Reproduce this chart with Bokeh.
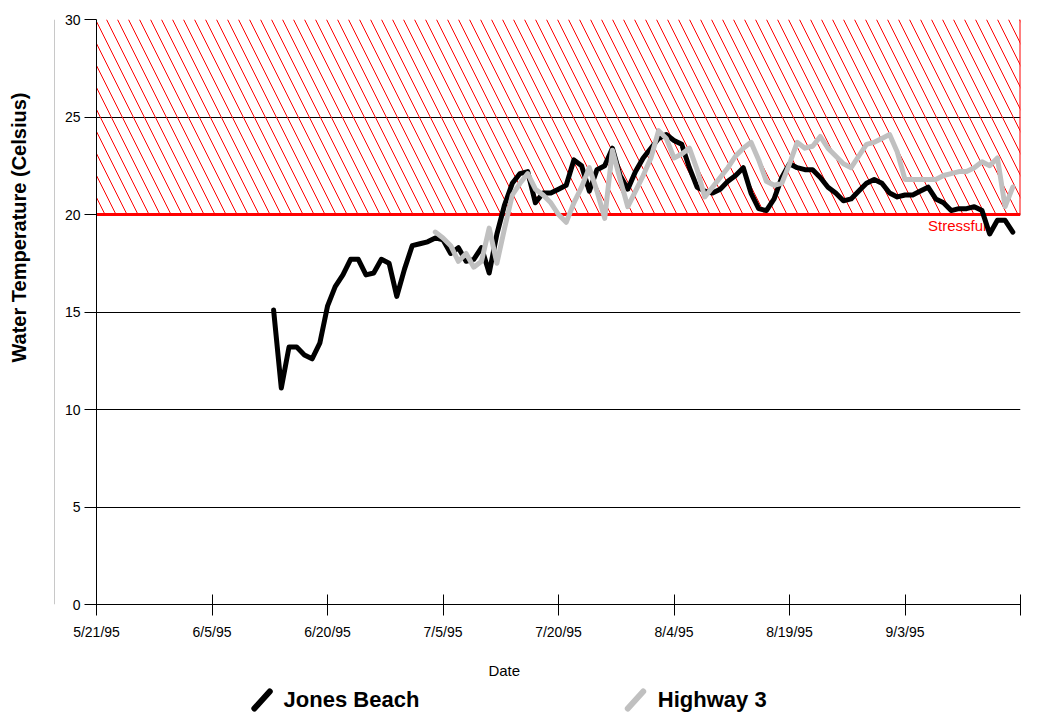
import math
from bokeh.plotting import figure
from bokeh.layouts import column, row
from bokeh.models import FixedTicker, Range1d
from bokeh.core.properties import value
from bokeh.embed import file_html
from bokeh.resources import INLINE

# x axis: days since 5/21/95
tick_days = [0, 15, 30, 45, 60, 75, 90, 105, 120]
tick_labels = ["5/21/95", "6/5/95", "6/20/95", "7/5/95", "7/20/95", "8/4/95", "8/19/95", "9/3/95", ""]
y_ticks = [0, 5, 10, 15, 20, 25, 30]

# Jones Beach (days since 5/21/95, deg C)
jb_day = list(range(23, 120))
jb_temp = [15.1, 11.1, 13.2, 13.2, 12.8, 12.6, 13.4, 15.3, 16.3, 16.9,
           17.7, 17.7, 16.9, 17.0, 17.7, 17.5, 15.8, 17.2, 18.4, 18.5,
           18.6, 18.8, 18.7, 18.0, 18.3, 17.6, 17.7, 18.3, 17.0, 19.0,
           20.5, 21.6, 22.1, 22.2, 20.6, 21.1, 21.1, 21.3, 21.5, 22.8,
           22.5, 21.2, 22.3, 22.5, 23.4, 22.0, 21.3, 22.2, 22.9, 23.4,
           23.9, 24.1, 23.8, 23.6, 22.4, 21.4, 21.2, 21.1, 21.3, 21.7,
           22.0, 22.4, 21.1, 20.3, 20.2, 20.8, 21.9, 22.6, 22.4, 22.3,
           22.3, 21.9, 21.4, 21.1, 20.7, 20.8, 21.2, 21.6, 21.8, 21.6,
           21.1, 20.9, 21.0, 21.0, 21.2, 21.4, 20.8, 20.6, 20.2, 20.3,
           20.3, 20.4, 20.2, 19.0, 19.7, 19.7, 19.1]

# Highway 3
hw_day = list(range(44, 120))
hw_temp = [19.1, 18.8, 18.4, 17.6, 18.0, 17.3, 17.6, 19.3, 17.5, 19.3,
           21.0, 21.6, 22.1, 21.3, 21.0, 20.6, 20.0, 19.6, 20.6, 21.4,
           22.4, 21.2, 19.8, 23.3, 21.8, 20.4, 21.2, 22.0, 22.9, 24.3,
           23.9, 22.9, 23.1, 23.4, 22.3, 20.9, 21.4, 21.9, 22.4, 23.0,
           23.4, 23.7, 22.8, 21.7, 21.5, 21.6, 22.6, 23.7, 23.4, 23.5,
           24.0, 23.4, 23.0, 22.6, 22.4, 23.0, 23.6, 23.7, 23.9, 24.1,
           23.2, 21.8, 21.8, 21.8, 21.8, 21.8, 22.0, 22.1, 22.2, 22.2,
           22.4, 22.7, 22.5, 22.9, 20.4, 21.4]

series_names = ["Jones Beach", "Highway 3"]
series_colors = ["black", "#c0c0c0"]

stress_low, stress_high = 20, 30
x_start, x_end = 0, 120
y_start, y_end = 0, 30

FONT = "Liberation Sans"
BORDER = "#c8c8c8"

# ---- layout constants (pixels)
TOTAL_W, TOTAL_H = 1044, 715
TOP_STRIP = 5
LEFT_STRIP = 60
PLOT_LEFT, PLOT_RIGHT, PLOT_TOP, PLOT_BOTTOM = 96, 24, 14, 38
MAIN_H = 637
frame_h = MAIN_H - PLOT_TOP - PLOT_BOTTOM
ppu = frame_h / (y_end - y_start)


def blank(fig):
    fig.axis.visible = False
    fig.grid.visible = False
    fig.outline_line_color = None
    fig.background_fill_color = "white"
    fig.border_fill_color = "white"


# ---- top strip: faint box border
ts = figure(width=TOTAL_W, height=TOP_STRIP, output_backend="svg", toolbar_location=None,
            x_range=Range1d(0, TOTAL_W), y_range=Range1d(0, TOP_STRIP), min_border=0)
blank(ts)
ts.segment(x0=[54], y0=[2], x1=[TOTAL_W], y1=[2], line_color=BORDER, line_width=1)

# ---- main chart
p = figure(width=TOTAL_W - LEFT_STRIP, height=MAIN_H, output_backend="svg",
           toolbar_location=None,
           x_range=Range1d(x_start, x_end), y_range=Range1d(y_start, y_end),
           min_border_left=PLOT_LEFT - LEFT_STRIP, min_border_right=PLOT_RIGHT,
           min_border_top=PLOT_TOP, min_border_bottom=PLOT_BOTTOM)
p.outline_line_color = None
p.background_fill_color = "white"
p.border_fill_color = "white"

p.xgrid.grid_line_color = None
p.ygrid.ticker = FixedTicker(ticks=y_ticks)
p.ygrid.grid_line_color = "black"
p.ygrid.grid_line_width = 1
p.ygrid.grid_line_alpha = 1

p.yaxis.ticker = FixedTicker(ticks=y_ticks)
p.yaxis.major_tick_out = 12
p.yaxis.major_tick_in = 0
p.yaxis.minor_tick_line_color = None
p.yaxis.major_label_standoff = 4
p.yaxis.axis_line_color = "black"
p.yaxis.major_tick_line_color = "black"

p.xaxis.ticker = FixedTicker(ticks=tick_days)
p.xaxis.major_label_overrides = {d: l for d, l in zip(tick_days, tick_labels)}
p.xaxis.major_tick_out = 11
p.xaxis.major_tick_in = 10
p.xaxis.minor_tick_line_color = None
p.xaxis.major_label_standoff = 8
p.xaxis.axis_line_color = "black"
p.xaxis.major_tick_line_color = "black"

for ax in (p.xaxis, p.yaxis):
    ax.major_label_text_font = FONT
    ax.major_label_text_font_size = "14px"
    ax.major_label_text_color = "black"

# stressful zone
p.quad(left=[x_start], right=[x_end], bottom=[stress_low], top=[stress_high],
       fill_color="white", fill_alpha=0, line_color=None,
       hatch_pattern="\\", hatch_color="red", hatch_scale=22, hatch_weight=1)
p.line([x_start, x_end], [stress_low, stress_low], line_color="red", line_width=3)
p.line([x_end, x_end], [stress_low, stress_high], line_color="red", line_width=2)
p.text(x=[108], y=[19.44], text=["Stressful"], text_color="red",
       text_font=value(FONT), text_font_size="15px", text_baseline="middle",
       text_align="left")

# data lines
p.line(jb_day, jb_temp, line_color=series_colors[0], line_width=5,
       line_join="round", line_cap="round")
p.line(hw_day, hw_temp, line_color=series_colors[1], line_width=5,
       line_join="round", line_cap="round")

# ---- left strip: y axis title + faint box border
ls = figure(width=LEFT_STRIP, height=MAIN_H, output_backend="svg", toolbar_location=None,
            x_range=Range1d(0, LEFT_STRIP),
            y_range=Range1d(y_start - PLOT_BOTTOM / ppu, y_end + PLOT_TOP / ppu),
            min_border=0)
blank(ls)
ls.text(x=[18], y=[19.1], text=["Water Temperature (Celsius)"], angle=math.pi / 2,
        text_align="center", text_baseline="middle", text_color="black",
        text_font=value(FONT), text_font_style="bold", text_font_size="20px")
ls.segment(x0=[54], y0=[y_start - PLOT_BOTTOM / ppu], x1=[54], y1=[y_end + PLOT_TOP / ppu],
           line_color=BORDER, line_width=1)

# ---- bottom strip: x axis title + legend (same horizontal scale as chart)
bh = TOTAL_H - MAIN_H - TOP_STRIP
lg = figure(width=TOTAL_W, height=bh, output_backend="svg", toolbar_location=None,
            x_range=Range1d(x_start, x_end), y_range=Range1d(0, bh),
            min_border_left=PLOT_LEFT, min_border_right=PLOT_RIGHT,
            min_border_top=0, min_border_bottom=0)
blank(lg)

lg.text(x=[50.9], y=[45], text=["Date"], text_color="black",
        text_font=value(FONT), text_font_size="15px",
        text_baseline="middle", text_align="left")

icon_x0 = [20.5, 69.0]
icon_x1 = [22.5, 71.0]
label_x = [24.3, 72.9]
lg.segment(x0=icon_x0, y0=[7, 7], x1=icon_x1, y1=[24, 24],
           line_color=series_colors, line_width=6, line_cap="round")
lg.text(x=label_x, y=[16, 16], text=series_names, text_color="black",
        text_font=value(FONT), text_font_style="bold", text_font_size="22px",
        text_baseline="middle", text_align="left")

layout = column(ts, row(ls, p, spacing=0), lg, spacing=0)
open("out.html", "w").write(file_html(layout, INLINE))
